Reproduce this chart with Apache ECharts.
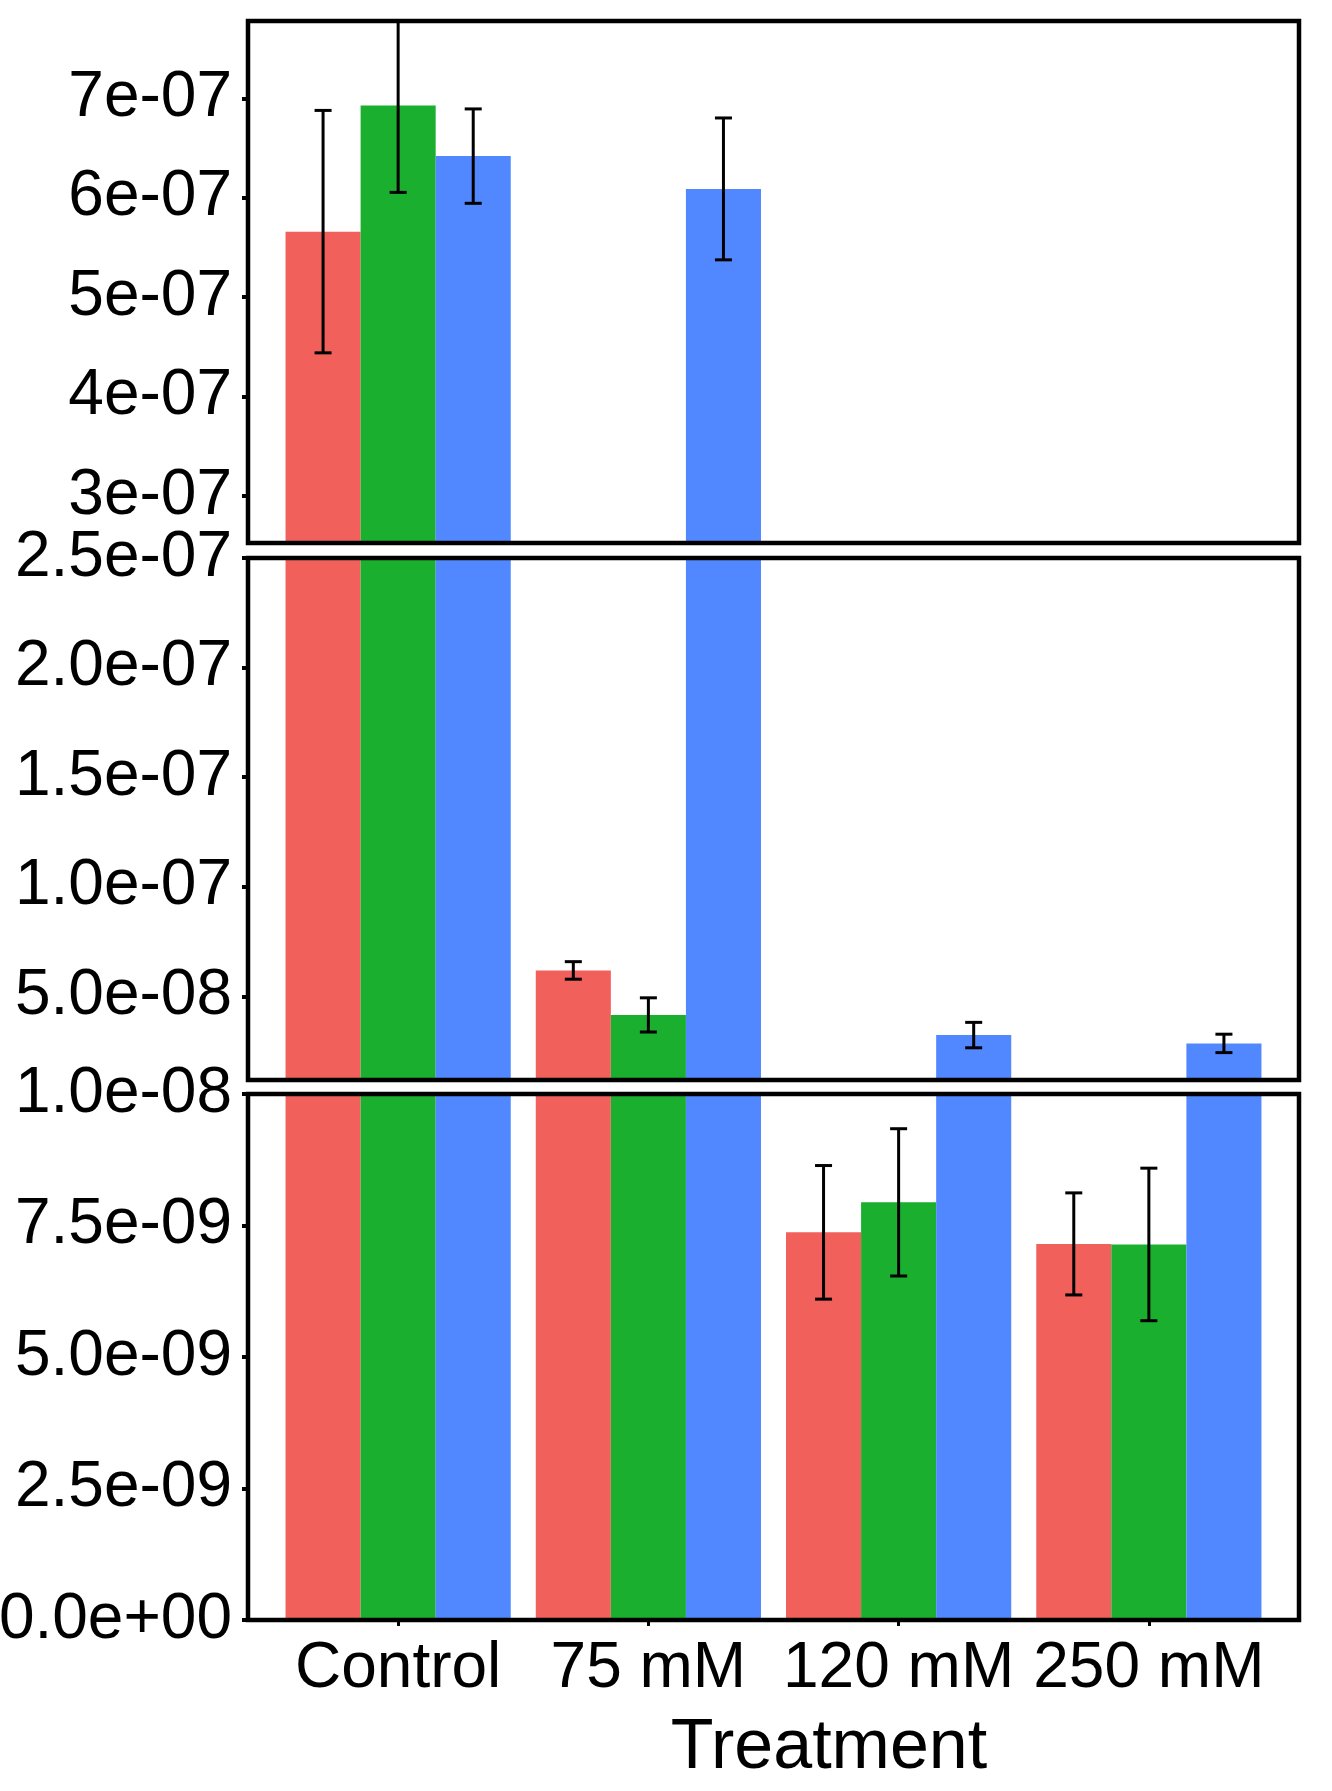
<!DOCTYPE html>
<html>
<head>
<meta charset="utf-8">
<script src="https://cdn.jsdelivr.net/npm/echarts@6/dist/echarts.min.js"></script>
<style>
  html, body { margin: 0; padding: 0; background: #fff; }
  #main { width: 1332px; height: 1791px; }
</style>
</head>
<body>
<div id="main"></div>
<script>
// data
var categories = ['Control', '75 mM', '120 mM', '250 mM'];
var redMean   = [5.66e-7, 6.18e-8, 7.37e-9, 7.15e-9];
var redErr    = [1.22e-7, 0.40e-8, 1.27e-9, 0.97e-9];
var greenMean = [6.93e-7, 4.15e-8, 7.94e-9, 7.14e-9];
var greenErr  = [0.875e-7, 0.78e-8, 1.40e-9, 1.45e-9];
var blueMean  = [6.42e-7, 6.09e-7, 3.23e-8, 2.85e-8];
var blueErr   = [0.475e-7, 0.714e-7, 0.58e-8, 0.42e-8];

// the three pieces of the broken axis
var topRange = [2.526e-7, 7.78e-7];
var midRange = [1.18e-8, 2.5e-7];
var lowRange = [0, 1e-8];
var topTicks = [3e-7, 4e-7, 5e-7, 6e-7, 7e-7];
var topTickLabels = ['3e-07', '4e-07', '5e-07', '6e-07', '7e-07'];
var midTicks = [5e-8, 1e-7, 1.5e-7, 2e-7, 2.5e-7];
var midTickLabels = ['5.0e-08', '1.0e-07', '1.5e-07', '2.0e-07', '2.5e-07'];
var lowTicks = [0, 2.5e-9, 5e-9, 7.5e-9, 1e-8];
var lowTickLabels = ['0.0e+00', '2.5e-09', '5.0e-09', '7.5e-09', '1.0e-08'];

var colors = ['#F2605B', '#1AAF2E', '#5288FF'];
var means = [redMean, greenMean, blueMean];
var errs = [redErr, greenErr, blueErr];

var font = 'Liberation Sans, Arial, sans-serif';
var myChart = echarts.init(document.getElementById('main'));

function labelOf(vals, labels) {
    return function (v) {
        for (var i = 0; i < vals.length; i++) {
            if (Math.abs(v - vals[i]) <= Math.abs(vals[i]) * 1e-6 + 1e-20) return labels[i];
        }
        return '';
    };
}

var grids = [
    {left: 248, width: 1051, top: 21, height: 522},
    {left: 248, width: 1051, top: 558, height: 522},
    {left: 248, width: 1051, top: 1094, height: 526}
];
var ranges = [topRange, midRange, lowRange];
var ticks = [topTicks, midTicks, lowTicks];
var tickLabels = [topTickLabels, midTickLabels, lowTickLabels];

var gridOpt = [], xAxes = [], yAxes = [], series = [];
for (var p = 0; p < 3; p++) {
    gridOpt.push({
        left: grids[p].left, width: grids[p].width, top: grids[p].top, height: grids[p].height,
        show: true, borderColor: '#000', borderWidth: 4.5, backgroundColor: 'transparent',
        z: 10, outerBoundsMode: 'none', containLabel: false
    });
    var isBottom = (p == 2);
    xAxes.push({
        type: 'value', gridIndex: p, min: 0.4, max: 4.6,
        axisLine: {show: false},
        splitLine: {show: false},
        axisTick: {show: isBottom, customValues: [1, 2, 3, 4], length: 6, lineStyle: {color: '#000', width: 3}},
        axisLabel: {
            show: isBottom, customValues: [1, 2, 3, 4], margin: 17,
            fontSize: 64, fontFamily: font, color: '#000',
            formatter: function (v) { return categories[Math.round(v) - 1] || ''; }
        }
    });
    yAxes.push({
        type: 'value', gridIndex: p, min: ranges[p][0], max: ranges[p][1],
        axisLine: {show: false},
        splitLine: {show: false},
        axisTick: {show: true, customValues: ticks[p], length: 6, lineStyle: {color: '#000', width: 4}},
        axisLabel: {
            customValues: ticks[p], margin: 16,
            fontSize: 64, fontFamily: font, color: '#000',
            formatter: labelOf(ticks[p], tickLabels[p])
        }
    });
    for (var s = 0; s < 3; s++) {
        var d = [];
        for (var i = 0; i < categories.length; i++) d.push([i + 1, means[s][i]]);
        series.push({
            type: 'bar', xAxisIndex: p, yAxisIndex: p, data: d,
            barGap: '0%', barCategoryGap: '10%', clip: true, z: 2,
            itemStyle: {color: colors[s]}
        });
    }
    var errData = [];
    for (var s2 = 0; s2 < 3; s2++) {
        for (var j = 0; j < categories.length; j++) {
            errData.push([j + 1, means[s2][j] - errs[s2][j], means[s2][j] + errs[s2][j], s2]);
        }
    }
    series.push({
        type: 'custom', xAxisIndex: p, yAxisIndex: p, clip: true, data: errData, z: 5,
        encode: {x: 0, y: [1, 2]},
        renderItem: function (params, api) {
            var x = api.value(0), lo = api.value(1), hi = api.value(2), k = api.value(3);
            var band = api.size([1, 0])[0];
            var dx = (k - 1) * band * 0.9 / 3;
            var pLo = api.coord([x, lo]);
            var pHi = api.coord([x, hi]);
            var cx = pLo[0] + dx;
            var cap = band * 0.034;
            var st = {stroke: '#000', lineWidth: 3};
            return {
                type: 'group', children: [
                    {type: 'line', shape: {x1: cx, y1: pLo[1], x2: cx, y2: pHi[1]}, style: st},
                    {type: 'line', shape: {x1: cx - cap, y1: pLo[1], x2: cx + cap, y2: pLo[1]}, style: st},
                    {type: 'line', shape: {x1: cx - cap, y1: pHi[1], x2: cx + cap, y2: pHi[1]}, style: st}
                ]
            };
        }
    });
}

myChart.setOption({
    animation: false,
    backgroundColor: '#fff',
    grid: gridOpt,
    xAxis: xAxes,
    yAxis: yAxes,
    series: series,
    graphic: [{
        type: 'text', x: 829, y: 1749,
        style: {text: 'Treatment', fontSize: 70, fontFamily: font, fill: '#000', align: 'center', verticalAlign: 'middle'}
    }]
});
</script>
</body>
</html>
